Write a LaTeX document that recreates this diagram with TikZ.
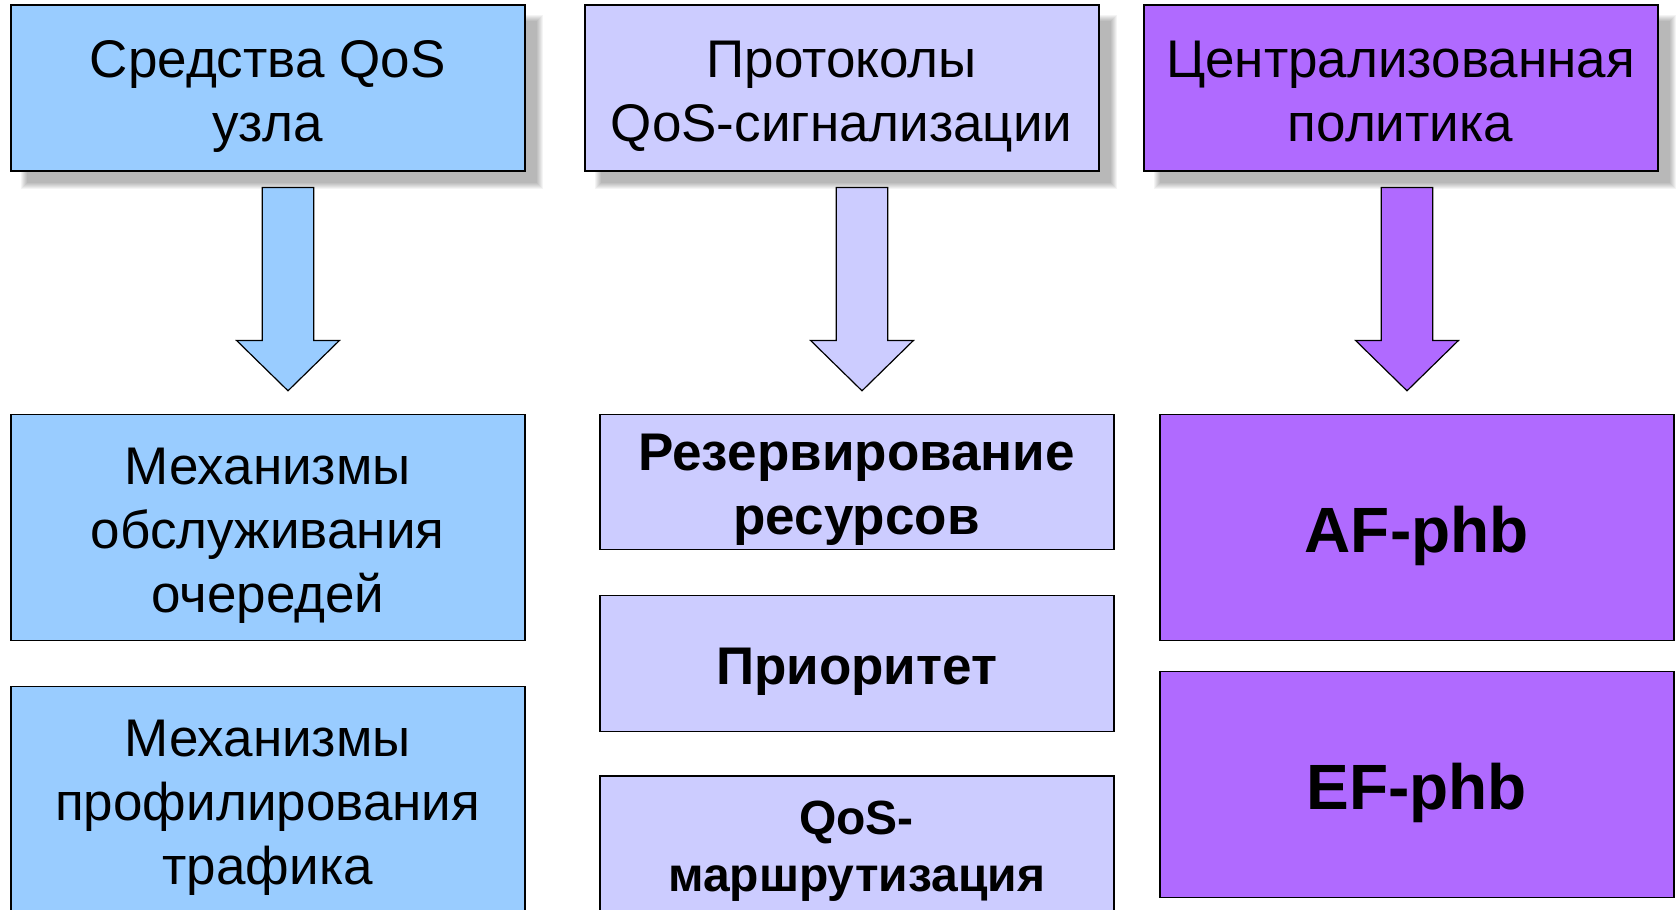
\documentclass[tikz,border=0pt]{standalone}
\usepackage{fontspec}
\setmainfont{Liberation Sans}
\usetikzlibrary{backgrounds}
\definecolor{cblue}{HTML}{99CCFF}
\definecolor{clav}{HTML}{CCCCFF}
\definecolor{cpurp}{HTML}{B06AFF}
\newcommand\topst{\rule{0pt}{1em}}
\newcommand\botst{\rule[-0.212em]{0pt}{0.212em}}
\tikzset{
  box/.style={draw=black, line width=1.8pt, rectangle, minimum width=514pt, inner sep=0pt, align=center, text=black},
  topbox/.style={box, minimum height=166pt, font=\fontsize{53}{64}\selectfont},
  normbox/.style={box, font=\fontsize{53}{64}\selectfont},
  boldbox/.style={box, font=\fontsize{53}{64}\selectfont\bfseries},
  smallbold/.style={box, font=\fontsize{48}{57}\selectfont\bfseries},
  bigbox/.style={box, font=\fontsize{64}{76}\selectfont\bfseries},
  blockarrow/.style={draw=black, line width=1.2pt, line join=miter},
  shadowlayer/.style={black, fill opacity=0.045}
}
\begin{document}
\begin{tikzpicture}[x=1pt, y=-1pt]
\useasboundingbox (0,0) rectangle (1679,910);
% top row
\node[topbox, fill=cblue] (t1) at (267.7,88.3) {\topst Средства QoS\\узла\botst};
\node[topbox, fill=clav] (t2) at (841.7,88.3) {\topst Протоколы\\QoS-сигнализации\botst};
\node[topbox, fill=cpurp] (t3) at (1400.6,88.3) {\topst Централизованная\\политика\botst};
% block arrows
\foreach \c/\col in {288/cblue, 862/clav, 1407/cpurp}{
  \draw[blockarrow, fill=\col] (\c-25.7,187.4) -- (\c+25.7,187.4) -- (\c+25.7,340.5) -- (\c+51.4,340.5)
    -- (\c,390.8) -- (\c-51.4,340.5) -- (\c-25.7,340.5) -- cycle;
}
% left column
\node[normbox, fill=cblue, minimum height=226pt] (l1) at (267.7,527.4) {\topst Механизмы\\обслуживания\\очередей\botst};
\node[normbox, fill=cblue, minimum height=226pt] (l2) at (267.7,799.4) {\topst Механизмы\\профилирования\\трафика\botst};
% middle column
\node[boldbox, fill=clav, minimum height=135pt] (m1) at (856.6,481.9) {\topst Резервирование\\ресурсов\botst};
\node[boldbox, fill=clav, minimum height=136pt] (m2) at (856.6,663.4) {\topst Приоритет\botst};
\node[smallbold, fill=clav, minimum height=136pt] (m3) at (856.6,844.3) {\topst QoS-\\маршрутизация\botst};
% right column
\node[bigbox, fill=cpurp, minimum height=226pt] (r1) at (1416.7,527.4) {\topst AF-phb\botst};
\node[bigbox, fill=cpurp, minimum height=226pt] (r2) at (1416.7,784.4) {\topst EF-phb\botst};
% background and shadows of the top boxes
\begin{pgfonlayer}{background}
\fill[white] (0,0) rectangle (1679,910);
\foreach \n in {t1,t2,t3}{
  \foreach \r in {-3,-2,...,3}{
    \fill[shadowlayer] ([shift={(14-\r,14-\r)}]\n.north west) rectangle ([shift={(14+\r,14+\r)}]\n.south east);
  }
}
\end{pgfonlayer}
\end{tikzpicture}
\end{document}
